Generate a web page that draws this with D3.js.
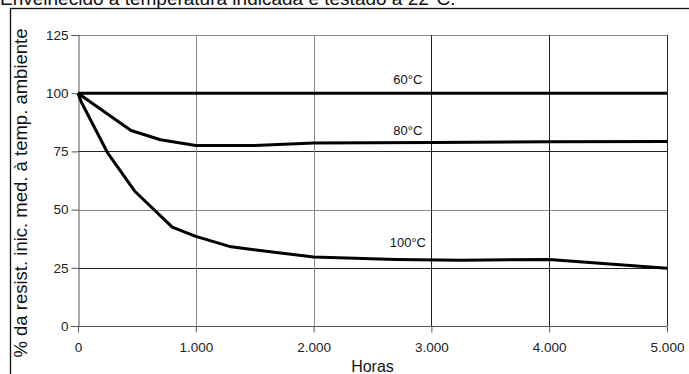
<!doctype html>
<html lang="pt">
<head>
<meta charset="utf-8">
<title>Envelhecimento</title>
<script src="https://cdn.jsdelivr.net/npm/d3@7"></script>
<style>
  body { margin: 0; background: #fff; }
  svg { font-family: "Liberation Sans", Arial, sans-serif; }
</style>
</head>
<body>
<div id="chart"></div>
<script>

// data (hours, % of initial resistance)
var hours60 = [0, 5000];
var values60 = [100, 100];

var hours80 = [0, 450, 700, 1000, 1500, 2000, 3000, 4000, 5000];
var values80 = [100, 84, 80, 77.5, 77.5, 78.6, 78.8, 79.1, 79.3];

var hours100 = [0, 30, 250, 480, 800, 1000, 1300, 2000, 2700, 3250, 4000, 5000];
var values100 = [100, 96, 74.5, 58, 42.5, 38.5, 34, 29.6, 28.6, 28.2, 28.6, 24.8];

var seriesNames = ["60°C", "80°C", "100°C"];
var labelPos = [[2800, 106], [2800, 84], [2800, 36]];

var xTicks = [0, 1000, 2000, 3000, 4000, 5000];
var yTicks = [0, 25, 50, 75, 100, 125];

var width = 689, height = 374;
var margin = {left: 78, right: 22, top: 35, bottom: 48};

var svg = d3.select("#chart").append("svg")
    .attr("width", width)
    .attr("height", height);

// outer frame (partly off the page)
svg.append("rect")
    .attr("x", 10.5).attr("y", 8.5)
    .attr("width", 700).attr("height", 400)
    .attr("fill", "none").attr("stroke", "#111").attr("stroke-width", 1.3);

// title, mostly cut off at the top (as in the scan)
svg.append("text")
    .attr("x", 0).attr("y", 5)
    .attr("font-size", 19)
    .attr("fill", "#111")
    .text("Envelhecido à temperatura indicada e testado a 22°C.");

var x = d3.scaleLinear().domain([0, 5000]).range([margin.left, width - margin.right]);
var y = d3.scaleLinear().domain([0, 125]).range([height - margin.bottom, margin.top]);

var ptBR = d3.formatLocale({decimal: ",", thousands: ".", grouping: [3], currency: ["R$", ""]});
var fmt = ptBR.format(",d");

// grid lines
var darkY = [25, 75];
var darkX = [3000, 4000, 5000];

svg.append("g").selectAll("line")
    .data(yTicks.slice(1))
    .join("line")
    .attr("x1", x(0)).attr("x2", x(5000))
    .attr("y1", d => Math.round(y(d)) + 0.5).attr("y2", d => Math.round(y(d)) + 0.5)
    .attr("stroke", d => darkY.includes(d) ? "#222" : "#8a8a8a")
    .attr("stroke-width", 1);

svg.append("g").selectAll("line")
    .data(xTicks.slice(1))
    .join("line")
    .attr("x1", d => Math.round(x(d)) + 0.5).attr("x2", d => Math.round(x(d)) + 0.5)
    .attr("y1", y(0)).attr("y2", y(125))
    .attr("stroke", d => darkX.includes(d) ? "#222" : "#8a8a8a")
    .attr("stroke-width", 1);

// axes
var yAxis = d3.axisLeft(y).tickValues(yTicks).tickSize(7).tickPadding(3);
var xAxis = d3.axisBottom(x).tickValues(xTicks).tickFormat(fmt).tickSize(6).tickPadding(10);

var gy = svg.append("g")
    .attr("transform", "translate(" + (Math.round(x(0)) + 0.5) + ",0)")
    .call(yAxis);
var gx = svg.append("g")
    .attr("transform", "translate(0," + (Math.round(y(0)) + 0.5) + ")")
    .call(xAxis);

[gy, gx].forEach(function(g) {
    g.select(".domain").attr("stroke", "#555");
    g.selectAll(".tick line").attr("stroke", "#555");
    g.selectAll(".tick text")
        .attr("font-family", "Liberation Sans, Arial, sans-serif")
        .attr("font-size", 13.5)
        .attr("fill", "#222");
});
gx.select(".domain").attr("d", "M" + (x(0) - 7) + ",0H" + x(5000));

// axis titles
svg.append("text")
    .attr("x", (x(0) + x(5000)) / 2).attr("y", 372)
    .attr("text-anchor", "middle")
    .attr("font-size", 16)
    .attr("fill", "#111")
    .text("Horas");

svg.append("text")
    .attr("transform", "translate(27," + 193 + ") rotate(-90)")
    .attr("text-anchor", "middle")
    .attr("font-size", 18.5)
    .attr("fill", "#111")
    .text("% da resist. inic. med. à temp. ambiente");

// curves
var allHours = [hours60, hours80, hours100];
var allValues = [values60, values80, values100];

var line = d3.line()
    .x(d => x(d[0]))
    .y(d => y(d[1]));

allHours.forEach(function(h, i) {
    var pts = h.map((v, k) => [v, allValues[i][k]]);
    svg.append("path")
        .datum(pts)
        .attr("d", line)
        .attr("fill", "none")
        .attr("stroke", "#000")
        .attr("stroke-width", 3)
        .attr("stroke-linejoin", "round");
});

// series labels
svg.append("g").selectAll("text")
    .data(seriesNames)
    .join("text")
    .attr("x", (d, i) => x(labelPos[i][0]))
    .attr("y", (d, i) => y(labelPos[i][1]))
    .attr("text-anchor", "middle")
    .attr("dy", "0.35em")
    .attr("font-size", 13)
    .attr("fill", "#111")
    .text(d => d);

</script>
</body>
</html>
